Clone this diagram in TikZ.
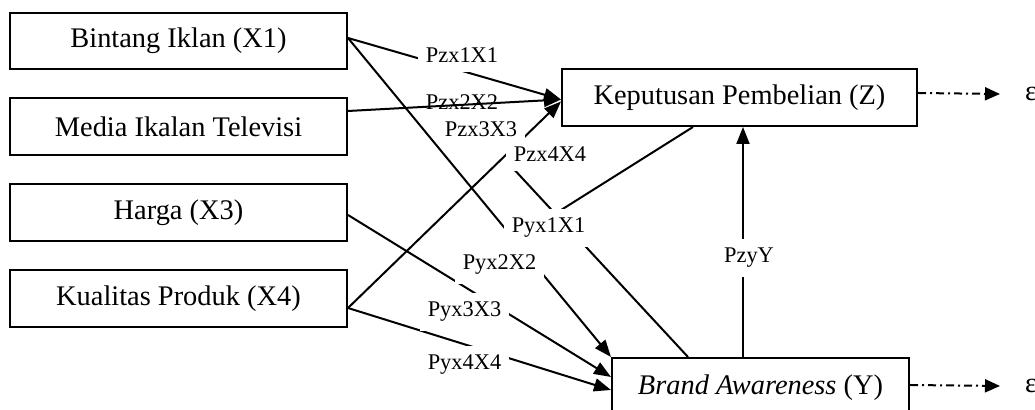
\documentclass[tikz,border=0pt]{standalone}
\usepackage{fontspec}
\setmainfont{Liberation Serif}
\usepackage{tikz}
\usetikzlibrary{arrows.meta,positioning,calc}

\begin{document}
\begin{tikzpicture}[x=0.5pt, y=-0.5pt, line width=1pt,
  varbox/.style={draw, inner sep=0pt, font=\fontsize{14.2}{17}\selectfont},
  coef/.style={fill=white, inner xsep=4pt, inner ysep=4.5pt, anchor=base, font=\fontsize{11.2}{13}\selectfont},
  link/.style={draw, -{Triangle[length=8.5pt,width=6.5pt]}},
  errlink/.style={draw, dash pattern=on 4pt off 2pt on 1pt off 2pt, -{Triangle[length=7.5pt,width=6.5pt]}}]
 \useasboundingbox (0,0) rectangle (1035,410);

 %x
 \node[varbox, minimum width=168.5pt, minimum height=28pt] (bintang) at (178.5,41) {Bintang Iklan (X1)};
 \node[varbox, minimum width=168.5pt, minimum height=28.5pt] (media) at (178.5,126.5) {Media Ikalan Televisi};
 \node[varbox, minimum width=168.5pt, minimum height=28.5pt] (harga) at (178.5,212.5) {Harga (X3)};
 \node[varbox, minimum width=168.5pt, minimum height=28.5pt] (kualitas) at (178.5,298.5) {Kualitas Produk (X4)};

 %z, y
 \node[varbox, minimum width=177.5pt, minimum height=28.5pt] (keputusan) at (739.5,97.5) {Keputusan Pembelian (Z)};
 \node[varbox, minimum width=148.5pt, minimum height=30pt] (brand) at (760.5,388) {\textit{Brand Awareness} (Y)};

 %e
 \node[inner sep=0pt, anchor=west, font=\fontsize{14.2}{17}\selectfont] (e1) at (1024,94) {ε};
 \node[inner sep=0pt, anchor=west, font=\fontsize{14.2}{17}\selectfont] (e2) at (1024,386) {ε};

 \node[coef, fill=none] (pzx2) at (462,110) {Pzx2X2};

 \coordinate (c1) at (510,165);
 \coordinate (c2) at (550,217);

 %lines
 \path[link] ([yshift=1.5pt]bintang.east) -- ([yshift=-1pt]keputusan.west);
 \path[link] ([yshift=7.75pt]media.east) -- ([yshift=-1pt]keputusan.west);
 \path[link] ([yshift=-4.75pt]kualitas.east) -- ([yshift=-2pt]keputusan.west);
 \path[draw] ([xshift=-23.25pt]keputusan.south) -- (c2);

 \path[link] ([yshift=1.5pt]bintang.east) -- (brand.north west);
 \path[draw] (c1) -- ([xshift=-36.25pt]brand.north);
 \path[link] ([yshift=-1.25pt]harga.east) -- ([yshift=5.5pt]brand.west);
 \path[link] ([yshift=-4.75pt]kualitas.east) -- ([yshift=-1pt]brand.west);

 \path[link] ([xshift=-8.75pt]brand.north) -- ([xshift=-8.75pt]brand.north |- keputusan.south);

 \path[errlink] ([yshift=2.25pt]keputusan.east) -- ([xshift=-12pt]e1.west);
 \path[errlink] ([yshift=1.5pt]brand.east) -- ([xshift=-12pt]e2.west);

 %coefs
 \node[coef] (pzx1) at (462,63) {Pzx1X1};
 \node[coef, inner ysep=3pt] (pzx3) at (481,137) {Pzx3X3};
 \node[coef] (pzx4) at (550,162) {Pzx4X4};
 \node[coef] (pyx1) at (548.5,233) {Pyx1X1};
 \node[coef] (pyx2) at (499.5,270) {Pyx2X2};
 \node[coef] (pyx3) at (464.5,317) {Pyx3X3};
 \node[coef] (pyx4) at (464.5,370) {Pyx4X4};
 \node[coef] (pzy) at (749,263) {PzyY};

\end{tikzpicture}
\end{document}
